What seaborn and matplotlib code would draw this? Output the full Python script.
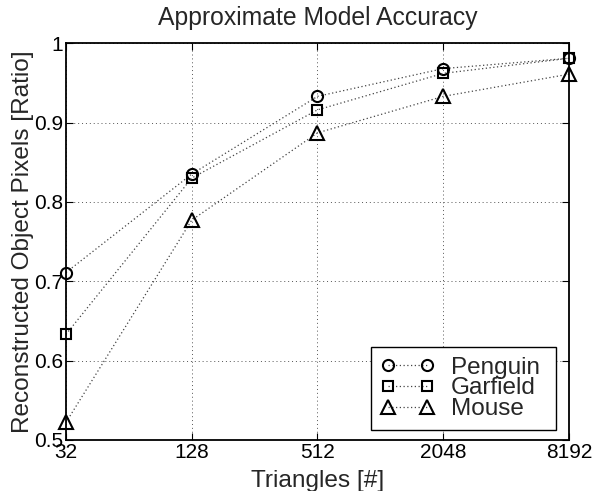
import matplotlib
matplotlib.use("Agg")
import matplotlib.pyplot as plt
import seaborn as sns
import pandas as pd

triangles = [32, 128, 512, 2048, 8192]
xtick_labels = ["32", "128", "512", "2048", "8192"]
penguin = [0.711, 0.835, 0.933, 0.968, 0.981]
garfield = [0.633, 0.830, 0.916, 0.962, 0.981]
mouse = [0.522, 0.777, 0.887, 0.933, 0.961]
series_names = ["Penguin", "Garfield", "Mouse"]
yticks = [0.5, 0.6, 0.7, 0.8, 0.9, 1.0]
ytick_labels = ["0.5", "0.6", "0.7", "0.8", "0.9", "1"]

sns.set_style("white")
plt.rcParams["font.family"] = ["Liberation Sans", "DejaVu Sans"]

fig = plt.figure(figsize=(5.94, 4.91), dpi=100)
ax = fig.add_axes([0.111, 0.104, 0.847, 0.808])

markers = ["o", "s", "^"]
msizes = [8, 6.5, 10.5]
for name, vals, mk, ms in zip(series_names, [penguin, garfield, mouse], markers, msizes):
    df = pd.DataFrame({"x": triangles, "y": vals})
    sns.lineplot(data=df, x="x", y="y", ax=ax, color="#444444", linestyle=(0, (1, 2)),
                 linewidth=0.9, marker=mk, markersize=ms, markerfacecolor="none",
                 markeredgecolor="black", markeredgewidth=1.5, label=name, clip_on=False)

ax.set_xscale("log", base=2)
ax.set_xlim(32, 8192)
ax.set_ylim(0.5, 1.0)
ax.set_xticks(triangles)
ax.set_xticklabels(xtick_labels)
ax.minorticks_off()
ax.set_yticks(yticks)
ax.set_yticklabels(ytick_labels)
ax.tick_params(direction="in", length=5, width=0.8, labelsize=15, top=True, right=True,
               bottom=True, left=True, colors="black", pad=2)
ax.grid(True, linestyle=(0, (1, 3)), color="#555555", linewidth=0.7)
for s in ax.spines.values():
    s.set_color("black")
    s.set_linewidth(1.3)

ax.set_title("Approximate Model Accuracy", fontsize=17.8, pad=13)
ax.set_xlabel("Triangles [#]", fontsize=17.6, labelpad=6)
ax.set_ylabel("Reconstructed Object Pixels [Ratio]", fontsize=17.6, labelpad=0)

leg = ax.legend(loc="lower left", bbox_to_anchor=(0.606, 0.025, 0.368, 0.214), mode="expand",
                numpoints=2, fontsize=17.5, frameon=True, fancybox=False,
                edgecolor="black", framealpha=1, borderpad=0.4, handlelength=2.2,
                handletextpad=0.7, labelspacing=-0.05, borderaxespad=0.0)
leg.get_frame().set_linewidth(1.0)

fig.savefig("out.png", dpi=100)
